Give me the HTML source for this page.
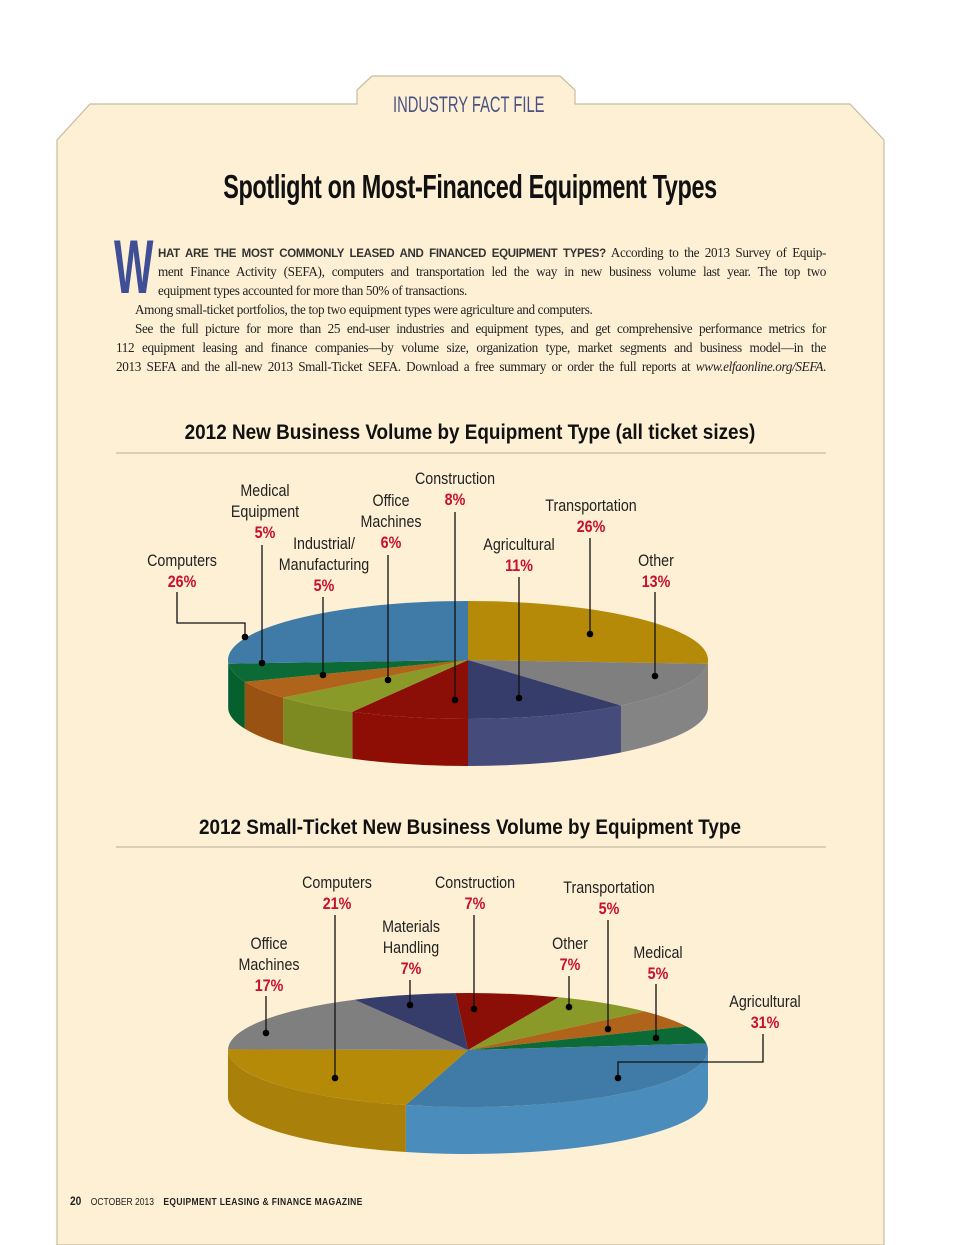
<!DOCTYPE html>
<html><head><meta charset="utf-8">
<style>
html,body{margin:0;padding:0;background:#fff;}
body{width:960px;height:1245px;position:relative;overflow:hidden;font-family:"Liberation Sans",sans-serif;}
.t{position:absolute;white-space:nowrap;}
.body{position:absolute;font-family:"Liberation Serif",serif;font-size:13.2px;color:#222;letter-spacing:-0.35px;text-align:justify;text-align-last:justify;white-space:nowrap;line-height:19px;}
.nl{text-align-last:left;}
</style></head><body>
<svg width="960" height="1245" style="position:absolute;left:0;top:0">
<path d="M57,1245 L57,140 L90,104 L357,104 L357,90 L372,76 L560,76 L575,90 L575,104 L850,104 L884,140 L884,1245 Z" fill="#fdf0d5" stroke="#c8bca0" stroke-width="1.2"/>
<line x1="116" y1="453" x2="826" y2="453" stroke="#b8ad98" stroke-width="1"/>
<line x1="116" y1="847" x2="826" y2="847" stroke="#b8ad98" stroke-width="1"/>
</svg>
<div class="t" style="left:357px;width:218px;top:92px;text-align:center;font-size:22px;color:#4a5182;transform:scaleX(0.67);">INDUSTRY FACT FILE</div>
<div class="t" style="left:0;width:940px;top:168px;text-align:center;font-size:33px;font-weight:bold;color:#111;letter-spacing:-0.5px;transform:scaleX(0.71);">Spotlight on Most-Financed Equipment Types</div>
<div class="t" style="left:114px;top:230px;font-size:76px;line-height:76px;color:#3f4f95;font-weight:bold;transform:scaleX(0.55);transform-origin:left top;width:100px;">W</div>
<div class="body" style="left:158px;width:668px;top:243px;"><span style="font-family:'Liberation Sans',sans-serif;font-size:11.5px;font-weight:bold;letter-spacing:-0.3px;color:#333;">HAT ARE THE MOST COMMONLY LEASED AND FINANCED EQUIPMENT TYPES?</span> According to the 2013 Survey of Equip-</div>
<div class="body" style="left:158px;width:668px;top:262px;">ment Finance Activity (SEFA), computers and transportation led the way in new business volume last year. The top two</div>
<div class="body nl" style="left:158px;width:668px;top:281px;">equipment types accounted for more than 50% of transactions.</div>
<div class="body nl" style="left:135px;width:690px;top:300px;">Among small-ticket portfolios, the top two equipment types were agriculture and computers.</div>
<div class="body" style="left:135px;width:691px;top:319px;">See the full picture for more than 25 end-user industries and equipment types, and get comprehensive performance metrics for</div>
<div class="body" style="left:116px;width:710px;top:338px;">112 equipment leasing and finance companies—by volume size, organization type, market segments and business model—in the</div>
<div class="body" style="left:116px;width:710px;top:357px;">2013 SEFA and the all-new 2013 Small-Ticket SEFA. Download a free summary or order the full reports at <i>www.elfaonline.org/SEFA</i>.</div>
<div class="t" style="left:0;width:940px;top:421px;text-align:center;font-weight:bold;font-size:21px;color:#111;transform:scaleX(0.9);">2012 New Business Volume by Equipment Type (all ticket sizes)</div>
<div class="t" style="left:0;width:940px;top:816px;text-align:center;font-weight:bold;font-size:21px;color:#111;transform:scaleX(0.9);">2012 Small-Ticket New Business Volume by Equipment Type</div>
<svg id="charts" width="960" height="1245" style="position:absolute;left:0;top:0"></svg>
<div class="t" style="left:70px;top:1194px;font-size:10px;color:#222;transform:scaleX(0.85);transform-origin:left top;"><b style="font-size:12px;">20</b>&nbsp;&nbsp;&nbsp;&nbsp;OCTOBER 2013&nbsp;&nbsp;&nbsp;&nbsp;<b style="letter-spacing:0.4px;">EQUIPMENT LEASING &amp; FINANCE MAGAZINE</b></div>
<script>
// Chart 1 data (clockwise from start angle)
const cats1 = ["Transportation","Other","Agricultural","Construction","Office Machines","Industrial/Manufacturing","Medical Equipment","Computers"];
const vals1 = [26,13,11,8,6,5,5,26];
const cols1 = ["#b58a08","#7f7f7f","#373d6a","#8b0f06","#8a9a28","#b0631a","#0b6a35","#3f7ba6"];
// Chart 2 data
const cats2 = ["Construction","Other","Transportation","Medical","Agricultural","Computers","Office Machines","Materials Handling"];
const vals2 = [7,7,5,5,31,21,17,7];
const cols2 = ["#8b0f06","#8a9a28","#b0631a","#0b6a35","#3f7ba6","#b58a08","#7f7f7f","#373d6a"];
const sides = {"#b58a08":"#a9810a","#7f7f7f":"#848484","#373d6a":"#454c7c","#8b0f06":"#8e0d05","#8a9a28":"#7d8a22","#b0631a":"#9a5212","#0b6a35":"#06602c","#3f7ba6":"#4a8cbc"};
// labels: [lines..., pct, textX, firstLineY, leader points]
const labels1 = [
 [["Computers"],"26%",182,560,[[177,592],[177,623],[245,623],[245,637]]],
 [["Medical","Equipment"],"5%",265,490,[[262,545],[262,663]]],
 [["Industrial/","Manufacturing"],"5%",324,543,[[323,597],[323,675]]],
 [["Office","Machines"],"6%",391,500,[[388,555],[388,680]]],
 [["Construction"],"8%",455,478,[[455,512],[455,700]]],
 [["Agricultural"],"11%",519,544,[[519,577],[519,698]]],
 [["Transportation"],"26%",591,505,[[590,538],[590,634]]],
 [["Other"],"13%",656,560,[[655,592],[655,676]]]
];
const labels2 = [
 [["Computers"],"21%",337,882,[[335,915],[335,1078]]],
 [["Construction"],"7%",475,882,[[474,915],[474,1009]]],
 [["Transportation"],"5%",609,887,[[608,920],[608,1029]]],
 [["Materials","Handling"],"7%",411,926,[[410,980],[410,1005]]],
 [["Office","Machines"],"17%",269,943,[[266,996],[266,1033]]],
 [["Other"],"7%",570,943,[[569,976],[569,1007]]],
 [["Medical"],"5%",658,952,[[656,984],[656,1038]]],
 [["Agricultural"],"31%",765,1001,[[763,1034],[763,1062],[618,1062],[618,1078]]]
];
const NS="http://www.w3.org/2000/svg";
const svg=document.getElementById('charts');
function mk(tag,attrs,parent){const e=document.createElementNS(NS,tag);for(const k in attrs)e.setAttribute(k,attrs[k]);(parent||svg).appendChild(e);return e;}
function drawPie(vals,cols,cx,cy,rx,ry,depth,startDeg,name){
  const g=mk('g',{});
  
  
  const tot=vals.reduce((a,b)=>a+b,0);
  const P=(d,dy)=>{const r=d*Math.PI/180;return [cx+rx*Math.sin(r),cy-ry*Math.cos(r)+(dy||0)];};
  let a=startDeg; const segs=[];
  vals.forEach((v,i)=>{const a2=a+v/tot*360;segs.push([a,a2,i]);a=a2;});
  segs.forEach(([a1,a2,i])=>{
    for(const off of [0,360,-360]){
      const s=Math.max(a1+off,90),e=Math.min(a2+off,270);
      if(e<=s) continue;
      const p1=P(s),p2=P(e),q2=P(e,depth),q1=P(s,depth);
      const d=`M${p1} A${rx},${ry} 0 0 1 ${p2} L${q2} A${rx},${ry} 0 0 0 ${q1} Z`;
      const el=mk('path',{d:d,fill:sides[cols[i]]||cols[i]},g);
      
      
    }
  });
  segs.forEach(([a1,a2,i])=>{
    const p1=P(a1),p2=P(a2),large=(a2-a1)>180?1:0;
    const el=mk('path',{d:`M${cx},${cy} L${p1} A${rx},${ry} 0 ${large} 1 ${p2} Z`,fill:cols[i]},g);
    
    
  });
}
function txt(g,x,y,s,bold,fill){
  const t=mk('text',{transform:`translate(${x},${y}) scale(0.84,1)`,'text-anchor':'middle','font-family':"Liberation Sans, sans-serif",'font-size':17,'font-weight':bold?'bold':'normal',fill:fill},g);
  t.textContent=s;
}
function drawLabels(labels,name){
  labels.forEach(([lines,pct,x,y,pts])=>{
    const g=mk('g',{});
    
    
    lines.forEach((ln,k)=>txt(g,x,y+6+k*21,ln,false,'#222'));
    txt(g,x,y+6+lines.length*21,pct,true,'#c8102e');
    mk('polyline',{points:pts.map(p=>p.join(',')).join(' '),fill:'none',stroke:'#111','stroke-width':1.3},g);
    const l=pts[pts.length-1];
    mk('circle',{cx:l[0],cy:l[1],r:3.3,fill:'#000'},g);
  });
}
drawPie(vals1,cols1,468,660,240,59,47,0,'pie-chart-1');
drawPie(vals2,cols2,468,1050,240,57,47,-3,'pie-chart-2');
drawLabels(labels1,'chart1-label');
drawLabels(labels2,'chart2-label');
</script>
</body></html>
